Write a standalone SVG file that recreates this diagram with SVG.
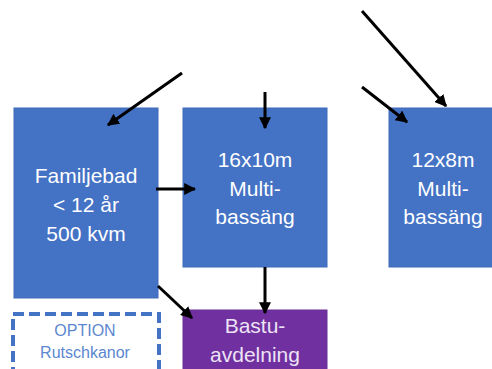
<svg xmlns="http://www.w3.org/2000/svg" width="492" height="369" viewBox="0 0 492 369">
<defs>
<marker id="ah" viewBox="0 0 10 10" markerWidth="4" markerHeight="4" refX="9" refY="5" orient="auto" markerUnits="strokeWidth">
<path d="M0,0 L10,5 L0,10 z" fill="#000"/>
</marker>
<style>
.box{fill:#4472C4;stroke:#3E6AB8;stroke-width:1}
.purple{fill:#7030A0;stroke:#6a2e98;stroke-width:1}
.t{font-family:"Liberation Sans",Arial,sans-serif;font-size:21px;fill:#fff;text-anchor:middle}
.tp{font-family:"Liberation Sans",Arial,sans-serif;font-size:21px;fill:#EDE3F5;text-anchor:middle}
.to{font-family:"Liberation Sans",Arial,sans-serif;font-size:16px;fill:#5B87D0;text-anchor:middle}
.c{stroke:#000;stroke-width:3;fill:none;marker-end:url(#ah)}
</style>
</defs>
<rect width="492" height="369" fill="#fff"/>
<g id="familjebad">
<rect class="box" x="14" y="108" width="144" height="190"/>
<text class="t" x="86" y="183">Familjebad</text>
<text class="t" x="86" y="212">&lt; 12 år</text>
<text class="t" x="86" y="241">500 kvm</text>
</g>
<g id="multi16">
<rect class="box" x="183" y="108" width="144" height="159"/>
<text class="t" x="255" y="167">16x10m</text>
<text class="t" x="255" y="196">Multi-</text>
<text class="t" x="255" y="224">bassäng</text>
</g>
<g id="multi12">
<rect class="box" x="389" y="108" width="110" height="159"/>
<text class="t" x="443" y="167">12x8m</text>
<text class="t" x="443" y="196">Multi-</text>
<text class="t" x="443" y="224">bassäng</text>
</g>
<g id="bastu">
<rect class="purple" x="183" y="310" width="144" height="65"/>
<text class="tp" x="255" y="333">Bastu-</text>
<text class="tp" x="255" y="362">avdelning</text>
</g>
<g id="option">
<rect x="13" y="314" width="146" height="62" fill="#fff" stroke="#4472C4" stroke-width="4" stroke-dasharray="11,5"/>
<text class="to" x="85" y="336">OPTION</text>
<text class="to" x="85" y="358">Rutschkanor</text>
</g>
<g id="connectors">
<line class="c" x1="182" y1="73" x2="108" y2="125"/>
<line class="c" x1="265" y1="92" x2="265" y2="128"/>
<line class="c" x1="362" y1="11" x2="446" y2="106"/>
<line class="c" x1="362" y1="87" x2="407" y2="122"/>
<line class="c" x1="156" y1="189" x2="195" y2="189"/>
<line class="c" x1="265" y1="267" x2="265" y2="313"/>
<line class="c" x1="158" y1="286" x2="192" y2="318"/>
</g>
</svg>
